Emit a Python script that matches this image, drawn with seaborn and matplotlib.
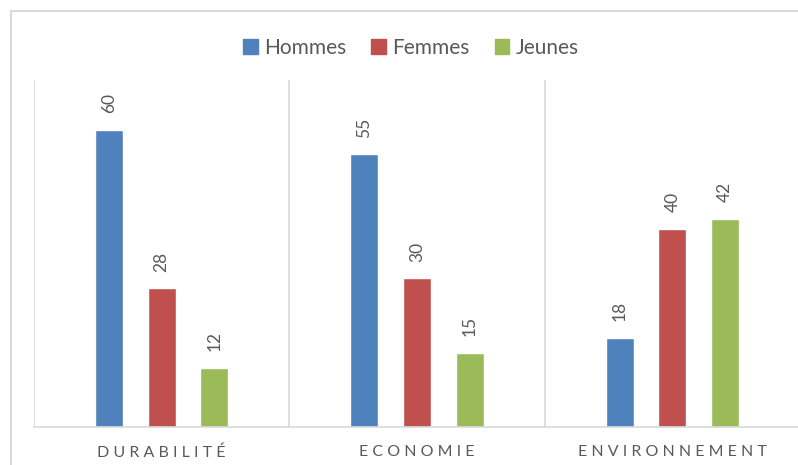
import numpy as np
import pandas as pd
import seaborn as sns
import matplotlib.pyplot as plt
import matplotlib

matplotlib.use('Agg')
sns.set_theme(style='white')
plt.rcParams['font.family'] = ['Lato', 'DejaVu Sans']

# Chart data
categories = ["DURABILITÉ", "ECONOMIE", "ENVIRONNEMENT"]
groups = ["Hommes", "Femmes", "Jeunes"]
hommes = [60, 55, 18]
femmes = [28, 30, 40]
jeunes = [12, 15, 42]

colors = ["#4F81BD", "#C0504D", "#9BBB59"]
text_gray = "#595959"
grid_gray = "#D9D9D9"

df = pd.DataFrame({
    "categorie": categories * 3,
    "groupe": np.repeat(groups, len(categories)),
    "valeur": hommes + femmes + jeunes,
})

fig = plt.figure(figsize=(7.98, 4.65), dpi=100)
ax = fig.add_axes([34 / 798, 1 - 427 / 465, 766 / 798, 347 / 465])

sns.barplot(data=df, x="categorie", y="valeur", hue="groupe", hue_order=groups,
            palette=colors, width=0.618, gap=0.47, saturation=1, ax=ax, legend=False)

# Value labels
for cont in ax.containers:
    ax.bar_label(cont, rotation=90, padding=12, fontsize=12.5, color=text_gray)

ax.set_ylim(0, 70)
ax.set_xlim(-0.5, 2.5)
ax.set_xlabel("")
ax.set_ylabel("")
ax.set_yticks([])

# Category separators
ax.set_xticks(np.arange(-0.5, 3.0, 1.0), minor=True)
ax.grid(True, which="minor", axis="x", color=grid_gray, linewidth=1.2)
ax.tick_params(axis="x", which="both", length=0, pad=13)
ax.set_xticklabels([" ".join(c) for c in categories], fontsize=11.5, color=text_gray)

for side in ["top", "right", "left"]:
    ax.spines[side].set_visible(False)
ax.spines["bottom"].set_color(grid_gray)
ax.spines["bottom"].set_linewidth(1.2)

# Legend
handles = [matplotlib.patches.Patch(color=c, label=g) for c, g in zip(colors, groups)]
fig.legend(handles=handles, loc="center", bbox_to_anchor=(411 / 798, 1 - 48 / 465),
           ncol=3, frameon=False, fontsize=15, handlelength=0.7, handleheight=0.7,
           handletextpad=0.3, columnspacing=1.2, labelcolor=text_gray)

# Outer chart border (cropped on the right and bottom)
border = matplotlib.patches.Rectangle((11 / 798, -0.1), 1.2, 1 - 11 / 465 + 0.1,
                                      transform=fig.transFigure, fill=False,
                                      edgecolor=grid_gray, linewidth=1.5)
fig.patches.append(border)

fig.savefig("out.png", dpi=100)
